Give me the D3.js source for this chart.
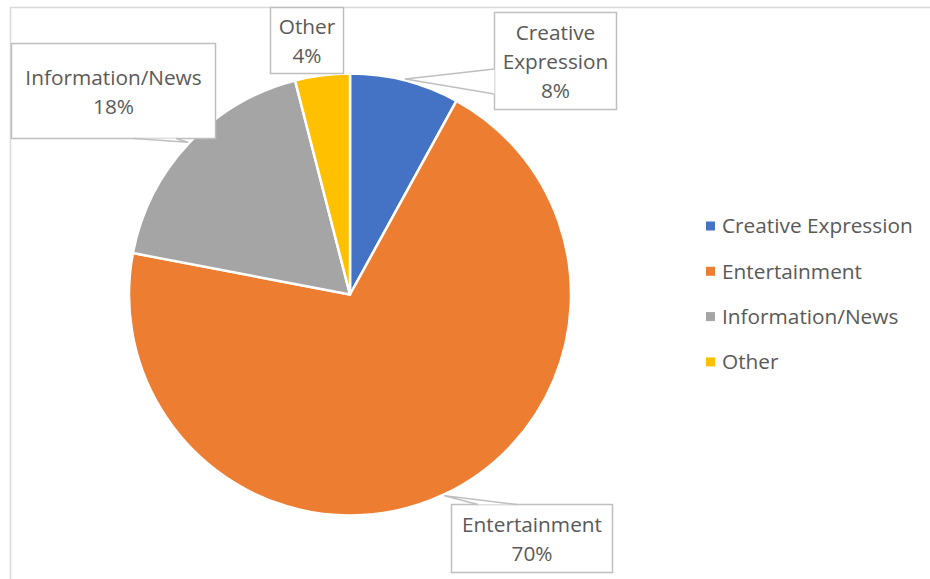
<!DOCTYPE html>
<html>
<head>
<meta charset="utf-8">
<script src="https://cdn.jsdelivr.net/npm/d3@7"></script>
<style>
  html, body { margin: 0; padding: 0; background: #fff; }
  svg { display: block; }
</style>
</head>
<body>
<svg id="chart" width="930" height="579"></svg>
<script>
const categories = ["Creative Expression", "Entertainment", "Information/News", "Other"];
const shares = [8, 70, 18, 4];
const colors = ["#4472C4", "#ED7D31", "#A5A5A5", "#FFC000"];

const W = 930, H = 579;
const svg = d3.select("#chart");
const font = "'Open Sans', Lato, sans-serif";
const fontSize = 20.8;
const textColor = "#595959";
const lineColor = "#BFBFBF";

// chart area frame (extends past the window on the right and bottom)
svg.append("rect")
  .attr("x", 10.5).attr("y", 7.5)
  .attr("width", W + 20).attr("height", H + 20)
  .attr("fill", "none").attr("stroke", "#D9D9D9").attr("stroke-width", 1.5);

const cx = 350, cy = 294.5, R = 221;
const color = d3.scaleOrdinal().domain(categories).range(colors);

const pie = d3.pie().sort(null).value(d => d.value);
const arcs = pie(categories.map((c, i) => ({ name: c, value: shares[i] })));
const arc = d3.arc().innerRadius(0).outerRadius(R);

const g = svg.append("g").attr("transform", `translate(${cx},${cy})`);
g.selectAll("path.slice")
  .data(arcs)
  .join("path")
  .attr("class", "slice")
  .attr("d", arc)
  .attr("fill", d => color(d.data.name))
  .attr("stroke", "#fff")
  .attr("stroke-width", 2.5)
  .attr("stroke-linejoin", "round");

// data label callouts: box and the edge segment the pointer leaves from
const total = d3.sum(shares);
const callouts = [
  { box: [494, 12, 122, 97], lines: ["Creative", "Expression"], base: [[494.5, 69], [494.5, 94]] },
  { box: [451, 504, 161, 68], lines: ["Entertainment"], base: [[478, 504.5], [517, 504.5]] },
  { box: [11, 43, 204, 95], lines: ["Information/News"], base: [[134, 138.5], [176, 138.5]] },
  { box: [270, 7, 73, 66], lines: ["Other"], base: null }
];

arcs.forEach((a, i) => {
  const c = callouts[i];
  const [bx, by, bw, bh] = c.box;
  const lg = svg.append("g");
  lg.append("rect")
    .attr("x", bx + 0.5).attr("y", by + 0.5)
    .attr("width", bw).attr("height", bh)
    .attr("fill", "#fff")
    .attr("stroke", lineColor)
    .attr("stroke-width", 1.5);
  if (c.base) {
    // pointer aimed at the middle of the slice, just outside the rim
    const ang = (a.startAngle + a.endAngle) / 2;
    const tr = R + 1.5;
    const tip = [cx + tr * Math.sin(ang), cy - tr * Math.cos(ang)];
    lg.append("path")
      .attr("d", `M${c.base[0][0]},${c.base[0][1]}L${tip[0]},${tip[1]}L${c.base[1][0]},${c.base[1][1]}`)
      .attr("fill", "#fff")
      .attr("stroke", lineColor)
      .attr("stroke-width", 1.5)
      .attr("stroke-linejoin", "round");
  }
  const pct = Math.round(a.data.value / total * 100) + "%";
  const allLines = c.lines.concat([pct]);
  const lh = 29;
  const y0 = by + bh / 2 + 1.5 - (allLines.length - 1) * lh / 2;
  const t = lg.append("text")
    .attr("font-family", font)
    .attr("font-size", fontSize)
    .attr("fill", textColor)
    .attr("text-anchor", "middle");
  allLines.forEach((s, k) => {
    t.append("tspan")
      .attr("x", bx + bw / 2 + 0.5)
      .attr("y", y0 + k * lh)
      .attr("dy", "0.35em")
      .text(s);
  });
});

// legend
const legend = svg.append("g").attr("transform", "translate(706,226)");
const item = legend.selectAll("g.item")
  .data(categories)
  .join("g")
  .attr("class", "item")
  .attr("transform", (d, i) => `translate(0,${i * 45.3})`);
item.append("rect")
  .attr("x", 0).attr("y", -4.5)
  .attr("width", 9).attr("height", 9)
  .attr("fill", d => color(d));
item.append("text")
  .attr("x", 16).attr("y", 0).attr("dy", "0.35em")
  .attr("font-family", font)
  .attr("font-size", fontSize)
  .attr("fill", textColor)
  .text(d => d);
</script>
</body>
</html>
